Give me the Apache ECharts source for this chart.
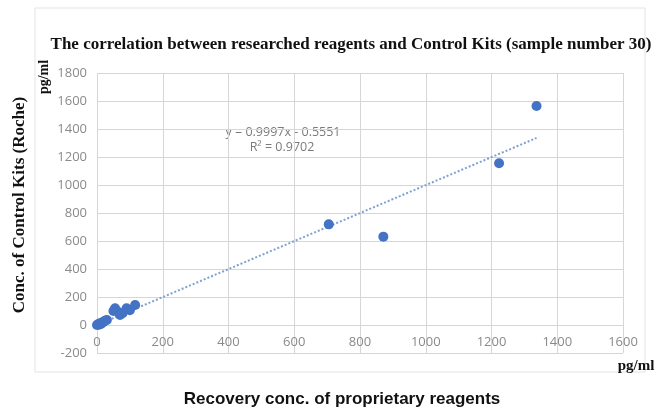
<!DOCTYPE html>
<html><head><meta charset="utf-8">
<script src="https://cdn.jsdelivr.net/npm/echarts@6/dist/echarts.min.js"></script>
<style>html,body{margin:0;padding:0;background:#fff}#c{width:655px;height:411px}</style>
</head><body><div id="c"></div>
<script>
const xTicks = [0, 200, 400, 600, 800, 1000, 1200, 1400, 1600];
const yTicks = [-200, 0, 200, 400, 600, 800, 1000, 1200, 1400, 1600, 1800];
const researched = [0, 3, 6, 9, 12, 16, 20, 24, 30, 50, 55, 64, 70, 78, 90, 100, 116, 705, 871, 1223, 1337];
const control = [0, 5, 2, 12, 8, 18, 22, 30, 36, 100, 119, 95, 71, 85, 119, 105, 143, 719, 631, 1155, 1564];
const slope = 0.9997, intercept = -0.5551;
const trendX = [0, 1337];
const eqText = ['y = 0.9997x - 0.5551', 'R² = 0.9702'];

const pts = researched.map((x, i) => [x, control[i]]);
const trend = trendX.map(x => [x, slope * x + intercept]);

const chart = echarts.init(document.getElementById('c'), null, {renderer: 'canvas'});
chart.setOption({
  animation: false,
  backgroundColor: '#fff',
  title: {
    text: 'The correlation between researched reagents and Control Kits (sample number 30)',
    left: 346, top: 31, textAlign: 'center',
    textStyle: {fontFamily: 'Liberation Serif', fontWeight: 'bold', fontSize: 17, color: '#111'}
  },
  grid: {left: 97, right: 32, top: 73, bottom: 58},
  xAxis: {
    type: 'value', min: xTicks[0], max: xTicks[xTicks.length - 1], interval: 200,
    axisLine: {show: false}, axisTick: {show: false},
    splitLine: {lineStyle: {color: '#d6d6d6', width: 1}},
    axisLabel: {color: '#8a8a8a', fontSize: 13, fontFamily: 'Open Sans', margin: -17, formatter: v => String(v)}
  },
  yAxis: {
    type: 'value', min: yTicks[0], max: yTicks[yTicks.length - 1], interval: 200,
    axisLine: {show: false}, axisTick: {show: false},
    splitLine: {lineStyle: {color: '#d6d6d6', width: 1}},
    axisLabel: {color: '#8a8a8a', fontSize: 13, fontFamily: 'Open Sans', margin: 10, formatter: v => String(v)}
  },
  series: [
    {
      type: 'line', data: trend, symbol: 'none', silent: true,
      lineStyle: {color: '#7fa0d0', width: 2, type: [2, 2]}, z: 2
    },
    {
      type: 'scatter', data: pts, symbolSize: 10,
      itemStyle: {color: '#4472c4', opacity: 1}, z: 3
    }
  ],
  graphic: [
    {type: 'rect', shape: {x: 35, y: 8, width: 610, height: 364}, style: {fill: 'none', stroke: '#e3e3e3', lineWidth: 1}, silent: true},
    {type: 'text', x: 283, y: 132, style: {text: eqText[0], fill: '#7a7a7a', font: '12.5px "Open Sans"', align: 'center', verticalAlign: 'middle'}},
    {type: 'text', x: 282, y: 147, style: {text: eqText[1], fill: '#7a7a7a', font: '12.5px "Open Sans"', align: 'center', verticalAlign: 'middle'}},
    {type: 'text', x: 20, y: 205, rotation: Math.PI / 2, style: {text: 'Conc. of Control Kits (Roche)', fill: '#111', font: 'bold 17px "Liberation Serif"', align: 'center', verticalAlign: 'middle'}},
    {type: 'text', x: 44, y: 77, rotation: Math.PI / 2, style: {text: 'pg/ml', fill: '#111', font: 'bold 14px "Liberation Serif"', align: 'center', verticalAlign: 'middle'}},
    {type: 'text', x: 636, y: 366, style: {text: 'pg/ml', fill: '#111', font: 'bold 15px "Liberation Serif"', align: 'center', verticalAlign: 'middle'}},
    {type: 'text', x: 342, y: 399, style: {text: 'Recovery conc. of proprietary reagents', fill: '#111', font: 'bold 17px "Liberation Sans"', align: 'center', verticalAlign: 'middle'}}
  ]
});
</script>
</body></html>
